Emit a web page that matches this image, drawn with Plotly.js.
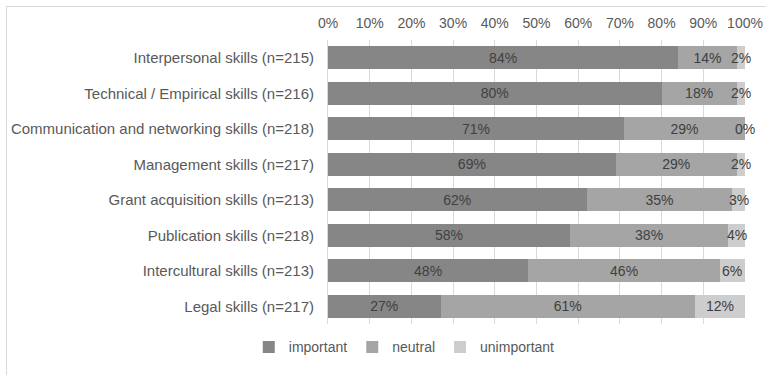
<!DOCTYPE html>
<html>
<head>
<meta charset="utf-8">
<script src="https://cdn.plot.ly/plotly-3.0.1.min.js"></script>
<style>
html,body{margin:0;padding:0;background:#fff;}
#chart{position:absolute;left:0;top:0;width:766px;height:375px;}
#frame{position:absolute;left:6px;top:6px;width:800px;height:400px;border-left:1px solid #d9d9d9;border-top:1px solid #d9d9d9;pointer-events:none;}
</style>
</head>
<body>
<div id="chart"></div>
<div id="frame"></div>
<script>
const categories = [
  "Interpersonal skills (n=215)",
  "Technical / Empirical skills (n=216)",
  "Communication and networking skills (n=218)",
  "Management skills (n=217)",
  "Grant acquisition skills (n=213)",
  "Publication skills (n=218)",
  "Intercultural skills (n=213)",
  "Legal skills (n=217)"
];
const important   = [84, 80, 71, 69, 62, 58, 48, 27];
const neutral     = [14, 18, 29, 29, 35, 38, 46, 61];
const unimportant = [2, 2, 0, 2, 3, 4, 6, 12];
const seriesNames = ["important", "neutral", "unimportant"];
const seriesColors = ["#868686", "#a5a5a5", "#cdcdcd"];

const font = "Liberation Sans, Arial, sans-serif";
const labelFont = {family: font, size: 14, color: "#404040"};
const series = [important, neutral, unimportant];
const data = series.map((vals, i) => ({
  type: "bar",
  orientation: "h",
  name: seriesNames[i],
  y: categories,
  x: vals,
  text: i < 2 ? vals.map(v => v + "%") : undefined,
  textposition: i < 2 ? "inside" : "none",
  insidetextanchor: "middle",
  textangle: 0,
  constraintext: "none",
  textfont: labelFont,
  marker: {color: seriesColors[i], line: {width: 0}},
  hoverinfo: "skip"
}));
// labels of the thin "unimportant" segments, centred on each segment
const annotations = unimportant.map((v, k) => ({
  xref: "x", yref: "y",
  x: important[k] + neutral[k] + v / 2,
  y: categories[k],
  text: v + "%",
  showarrow: false,
  xanchor: "center", yanchor: "middle",
  font: labelFont
}));

const layout = {
  width: 766, height: 375,
  margin: {l: 328, r: 21, t: 40, b: 42, pad: 0},
  paper_bgcolor: "#ffffff",
  plot_bgcolor: "#ffffff",
  barmode: "stack",
  bargap: 0.35,
  font: {family: font, size: 14, color: "#595959"},
  showlegend: true,
  annotations: annotations,
  legend: {
    orientation: "h",
    x: -0.19, xanchor: "left",
    y: -0.082, yanchor: "middle",
    font: {family: font, size: 14, color: "#595959"},
    traceorder: "normal",
    itemwidth: 30
  },
  xaxis: {
    side: "top",
    range: [0, 100],
    dtick: 10,
    ticksuffix: "%",
    showgrid: true,
    gridcolor: "#d9d9d9",
    zeroline: false,
    showline: false,
    ticks: "",
    ticklabelstandoff: 8,
    tickfont: {family: font, size: 14, color: "#595959"},
    fixedrange: true
  },
  yaxis: {
    autorange: "reversed",
    showline: true,
    linecolor: "#d9d9d9",
    ticks: "",
    ticklabelstandoff: 10,
    tickfont: {family: font, size: 15, color: "#595959"},
    fixedrange: true
  }
};

Plotly.newPlot("chart", data, layout, {displayModeBar: false, staticPlot: true});
</script>
</body>
</html>
